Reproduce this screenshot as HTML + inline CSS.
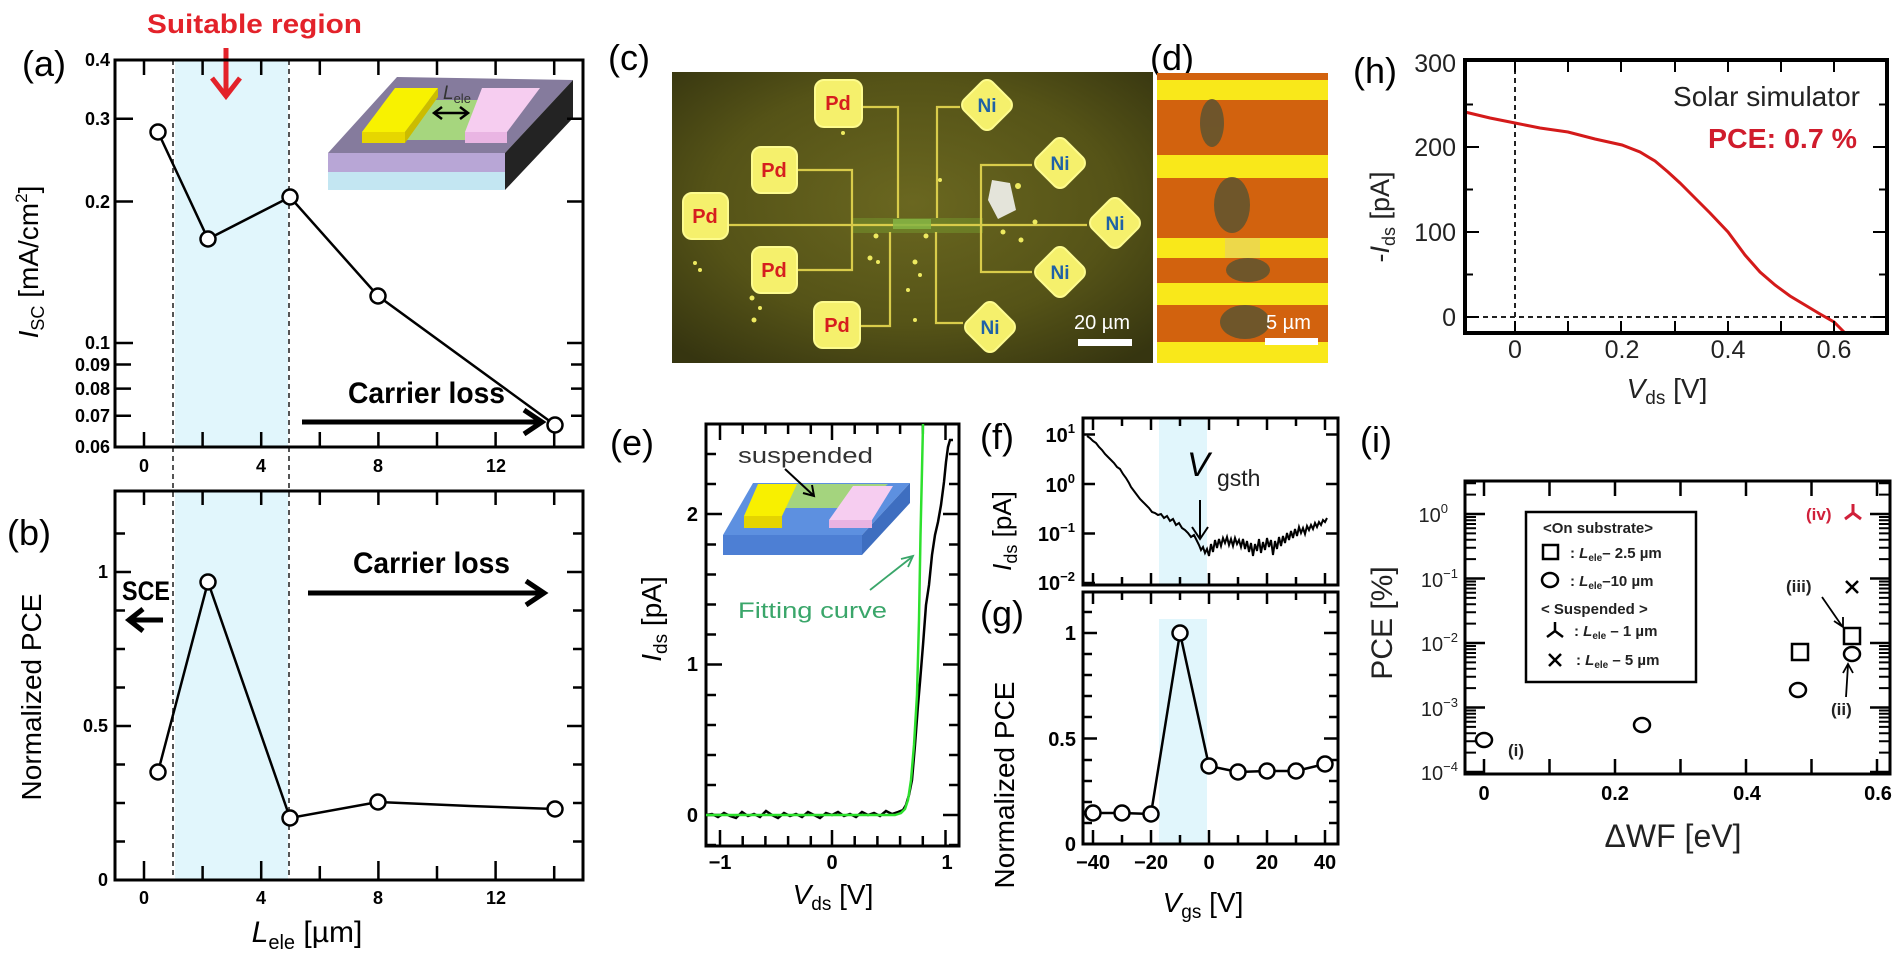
<!DOCTYPE html>
<html><head><meta charset="utf-8"><style>
html,body{margin:0;padding:0;background:#fff;width:1900px;height:957px;overflow:hidden;}
svg{display:block;}
text{font-family:"Liberation Sans",Arial,sans-serif;}
.b{font-weight:bold;}
</style></head><body>
<svg width="1900" height="957" viewBox="0 0 1900 957" xmlns="http://www.w3.org/2000/svg">
<defs>
<radialGradient id="cg" cx="0.5" cy="0.45" r="0.7">
<stop offset="0" stop-color="#6a6720"/><stop offset="0.6" stop-color="#555317"/><stop offset="1" stop-color="#363510"/>
</radialGradient>
</defs>

<!-- ================= (a) & (b) ================= -->
<text x="22" y="76" font-size="36">(a)</text>
<text x="147" y="33" font-size="27" class="b" fill="#e3222a" textLength="215" lengthAdjust="spacingAndGlyphs">Suitable region</text>

<rect x="175" y="60" width="113" height="387" fill="#e1f6fc"/>
<rect x="175" y="491" width="113" height="389" fill="#e1f6fc"/>
<line x1="173" y1="60" x2="173" y2="880" stroke="#555" stroke-width="2" stroke-dasharray="5,4"/>
<line x1="289" y1="60" x2="289" y2="880" stroke="#555" stroke-width="2" stroke-dasharray="5,4"/>

<line x1="226" y1="48" x2="226" y2="93" stroke="#e3222a" stroke-width="5"/>
<polyline points="212,78 226,96 240,78" fill="none" stroke="#e3222a" stroke-width="5"/>

<!-- inset (a) -->
<polygon points="397,77 573,80 505,153 328,153" fill="#857b9d"/>
<polygon points="328,153 505,153 505,172 328,172" fill="#b8a6d6"/>
<polygon points="328,172 505,172 505,190 328,190" fill="#c3e6f2"/>
<polygon points="505,153 573,80 573,118 505,190" fill="#232323"/>
<polygon points="420,100 482,100 467,140 405,140" fill="#a6d67e"/>
<polygon points="395,88 438,88 405,132 362,132" fill="#f8f200"/>
<polygon points="362,132 405,132 405,143 362,143" fill="#e6d600"/>
<polygon points="405,132 438,88 438,97 405,143" fill="#cbbc00"/>
<polygon points="482,88 540,88 507,132 465,132" fill="#f6cdf0"/>
<polygon points="465,132 507,132 507,143 465,143" fill="#e9b5e3"/>
<line x1="436" y1="113" x2="466" y2="113" stroke="#000" stroke-width="2.5"/>
<polyline points="442,107 434,113 442,119" fill="none" stroke="#000" stroke-width="2.5"/>
<polyline points="460,107 468,113 460,119" fill="none" stroke="#000" stroke-width="2.5"/>
<text x="443" y="99" font-size="19" font-style="italic" fill="#333">L<tspan font-size="13" font-style="normal" dy="4">ele</tspan></text>

<rect x="115" y="60" width="468" height="387" fill="none" stroke="#000" stroke-width="3"/>
<rect x="115" y="491" width="468" height="389" fill="none" stroke="#000" stroke-width="3"/>
<path d="M144,60v15M202.6,60v15M261.2,60v15M319.8,60v15M378.4,60v15M437,60v15M495.6,60v15M554.2,60v15
M144,447v-15M202.6,447v-15M261.2,447v-15M319.8,447v-15M378.4,447v-15M437,447v-15M495.6,447v-15M554.2,447v-15
M115,118.7h18M115,201.5h18M115,343h18M115,364.5h16M115,388.6h16M115,415.8h16
M583,118.7h-16M583,201.5h-16M583,343h-16M583,364.5h-12M583,388.6h-12M583,415.8h-12
M144,491v14M202.6,491v14M261.2,491v14M319.8,491v14M378.4,491v14M437,491v14M495.6,491v14M554.2,491v14
M144,880v-19M202.6,880v-14M261.2,880v-19M319.8,880v-14M378.4,880v-19M437,880v-14M495.6,880v-19M554.2,880v-14
M115,533.5h10M115,572h16M115,610.5h10M115,649h10M115,687.5h10M115,726h16M115,764.5h10M115,803h10M115,841.5h10
M583,533.5h-10M583,572h-16M583,610.5h-10M583,649h-10M583,687.5h-10M583,726h-16M583,764.5h-10M583,803h-10M583,841.5h-10" stroke="#000" stroke-width="2.5" fill="none"/>
<g font-size="18" class="b" text-anchor="end">
<text x="110" y="66">0.4</text><text x="110" y="125">0.3</text><text x="110" y="208">0.2</text>
<text x="110" y="349">0.1</text><text x="110" y="371">0.09</text><text x="110" y="395">0.08</text>
<text x="110" y="422">0.07</text><text x="110" y="453">0.06</text>
<text x="108" y="578">1</text><text x="108" y="732">0.5</text><text x="108" y="886">0</text>
</g>
<g font-size="18" class="b" text-anchor="middle">
<text x="144" y="472">0</text><text x="261" y="472">4</text><text x="378" y="472">8</text><text x="496" y="472">12</text>
<text x="144" y="904">0</text><text x="261" y="904">4</text><text x="378" y="904">8</text><text x="496" y="904">12</text>
</g>
<text transform="translate(38,262) rotate(-90)" font-size="28" text-anchor="middle"><tspan font-style="italic">I</tspan><tspan font-size="18" dy="6">SC</tspan><tspan dy="-6"> [mA/cm</tspan><tspan font-size="17" dy="-11">2</tspan><tspan dy="11">]</tspan></text>
<text transform="translate(41,697) rotate(-90)" font-size="28" text-anchor="middle">Normalized  PCE</text>
<text x="307" y="942" font-size="30" text-anchor="middle"><tspan font-style="italic">L</tspan><tspan font-size="20" dy="7">ele</tspan><tspan dy="-7"> [µm]</tspan></text>
<text x="7" y="545" font-size="36">(b)</text>

<polyline points="158,132 208,239 290,197 378,296 555,425" fill="none" stroke="#000" stroke-width="2.5"/>
<polyline points="158,772 208,582 290,818 378,802 470,806 555,809" fill="none" stroke="#000" stroke-width="2.5"/>
<g fill="#fff" stroke="#000" stroke-width="2.5">
<circle cx="158" cy="132" r="7.5"/><circle cx="208" cy="239" r="7.5"/><circle cx="290" cy="197" r="7.5"/><circle cx="378" cy="296" r="7.5"/><circle cx="555" cy="425" r="7.5"/>
<circle cx="158" cy="772" r="7.5"/><circle cx="208" cy="582" r="7.5"/><circle cx="290" cy="818" r="7.5"/><circle cx="378" cy="802" r="7.5"/><circle cx="555" cy="809" r="7.5"/>
</g>
<text x="348" y="403" font-size="30" class="b" textLength="157" lengthAdjust="spacingAndGlyphs">Carrier loss</text>
<line x1="302" y1="422" x2="540" y2="422" stroke="#000" stroke-width="5"/>
<polyline points="524,410 542,422 524,434" fill="none" stroke="#000" stroke-width="5"/>
<text x="353" y="573" font-size="30" class="b" textLength="157" lengthAdjust="spacingAndGlyphs">Carrier loss</text>
<line x1="308" y1="593" x2="542" y2="593" stroke="#000" stroke-width="5"/>
<polyline points="526,581 544,593 526,605" fill="none" stroke="#000" stroke-width="5"/>
<text x="122" y="600" font-size="27" class="b" textLength="48" lengthAdjust="spacingAndGlyphs">SCE</text>
<line x1="132" y1="620" x2="163" y2="620" stroke="#000" stroke-width="5"/>
<polyline points="143,609 129,620 143,631" fill="none" stroke="#000" stroke-width="5"/>

<!-- ================= (c) ================= -->
<text x="608" y="70" font-size="36">(c)</text>
<rect x="672" y="72" width="481" height="291" fill="url(#cg)"/>
<rect x="853" y="218" width="130" height="15" fill="#78a030" opacity="0.45"/>
<g fill="none" stroke="#d9cc4a" stroke-width="2.2">
<path d="M862,107H898V218M860,326H890V232M960,107H937V218M936,232V323H963M797,170H852V270H797M1032,165H981V272H1032M728,225H1087"/>
</g>
<rect x="893" y="219" width="38" height="10" fill="#86b444" opacity="0.85"/>
<polygon points="992,180 1010,183 1016,210 998,219 988,200" fill="#e4e4da"/>
<g fill="#eeea60">
<circle cx="1018" cy="186" r="3"/><circle cx="870" cy="258" r="2.5"/><circle cx="878" cy="262" r="2"/><circle cx="760" cy="308" r="2"/><circle cx="915" cy="262" r="2.5"/><circle cx="940" cy="180" r="2"/><circle cx="1021" cy="240" r="2.5"/><circle cx="843" cy="133" r="2"/><circle cx="908" cy="290" r="2"/><circle cx="700" cy="270" r="2"/>
<circle cx="752" cy="298" r="2.5"/><circle cx="754" cy="320" r="2.5"/><circle cx="876" cy="236" r="2.5"/><circle cx="920" cy="275" r="2"/><circle cx="926" cy="236" r="2.5"/><circle cx="1003" cy="232" r="2.5"/><circle cx="1035" cy="222" r="2.5"/><circle cx="695" cy="263" r="2"/><circle cx="915" cy="320" r="2"/>
</g>
<g fill="#f5f06c" stroke="#fdfb8e" stroke-width="2">
<rect x="815" y="80" width="47" height="47" rx="9"/>
<rect x="752" y="147" width="45" height="46" rx="9"/>
<rect x="683" y="193" width="45" height="46" rx="9"/>
<rect x="752" y="247" width="45" height="46" rx="9"/>
<rect x="814" y="302" width="46" height="46" rx="9"/>
<rect x="967" y="85" width="40" height="40" rx="8" transform="rotate(45 987 105)"/>
<rect x="1040" y="143" width="40" height="40" rx="8" transform="rotate(45 1060 163)"/>
<rect x="1095" y="203" width="40" height="40" rx="8" transform="rotate(45 1115 223)"/>
<rect x="1040" y="252" width="40" height="40" rx="8" transform="rotate(45 1060 272)"/>
<rect x="970" y="307" width="40" height="40" rx="8" transform="rotate(45 990 327)"/>
</g>
<g font-size="20" class="b" fill="#d61e1e" text-anchor="middle">
<text x="838" y="110">Pd</text><text x="774" y="177">Pd</text><text x="705" y="223">Pd</text><text x="774" y="277">Pd</text><text x="837" y="332">Pd</text>
</g>
<g font-size="19" class="b" fill="#1f62a6" text-anchor="middle">
<text x="987" y="112">Ni</text><text x="1060" y="170">Ni</text><text x="1115" y="230">Ni</text><text x="1060" y="279">Ni</text><text x="990" y="334">Ni</text>
</g>
<text x="1074" y="329" font-size="20" fill="#fff">20 µm</text>
<rect x="1078" y="339" width="54" height="7" fill="#fff"/>

<!-- ================= (d) ================= -->
<text x="1150" y="70" font-size="36">(d)</text>
<rect x="1157" y="73" width="171" height="290" fill="#d2620e"/>
<g fill="#f9e81a">
<rect x="1157" y="80" width="171" height="20"/>
<rect x="1157" y="155" width="171" height="23"/>
<rect x="1157" y="238" width="171" height="20"/>
<rect x="1157" y="283" width="171" height="22"/>
<rect x="1157" y="342" width="171" height="21"/>
</g>
<g fill="#5e5430" opacity="0.85">
<ellipse cx="1212" cy="123" rx="12" ry="24"/>
<ellipse cx="1232" cy="205" rx="18" ry="28"/>
<ellipse cx="1248" cy="270" rx="22" ry="12"/>
<ellipse cx="1245" cy="322" rx="25" ry="17"/>
</g>
<rect x="1225" y="238" width="35" height="20" fill="#e8d260" opacity="0.7"/>
<text x="1266" y="329" font-size="20" fill="#fff">5 µm</text>
<rect x="1265" y="338" width="53" height="7" fill="#fff"/>

<!-- ================= (h) ================= -->
<text x="1353" y="83" font-size="36">(h)</text>
<line x1="1515" y1="60" x2="1515" y2="333" stroke="#222" stroke-width="2" stroke-dasharray="5,4"/>
<line x1="1465" y1="317" x2="1887" y2="317" stroke="#222" stroke-width="2" stroke-dasharray="5,4"/>
<polyline points="1465,112 1490,118 1515,123 1540,128 1568,132 1595,139 1622,145 1640,152 1655,161 1668,172 1680,183 1695,198 1710,213 1728,232 1745,255 1760,272 1775,285 1790,296 1805,305 1820,314 1834,322 1845,333" fill="none" stroke="#d41a1a" stroke-width="3"/>
<rect x="1465" y="60" width="422" height="273" fill="none" stroke="#000" stroke-width="4"/>
<path d="M1515,60v12M1568,60v12M1621,60v12M1675,60v12M1728,60v12M1781,60v12M1834,60v12
M1515,333v-12M1568,333v-12M1621,333v-12M1675,333v-12M1728,333v-12M1781,333v-12M1834,333v-12
M1465,317h14M1465,274.5h8M1465,232h14M1465,189.5h8M1465,147h14M1465,104.5h8
M1887,317h-14M1887,274.5h-8M1887,232h-14M1887,189.5h-8M1887,147h-14M1887,104.5h-8" stroke="#000" stroke-width="2" fill="none"/>
<g font-size="25" text-anchor="end" fill="#222">
<text x="1456" y="72">300</text><text x="1456" y="156">200</text><text x="1456" y="241">100</text><text x="1456" y="326">0</text>
</g>
<g font-size="25" text-anchor="middle" fill="#222">
<text x="1515" y="358">0</text><text x="1622" y="358">0.2</text><text x="1728" y="358">0.4</text><text x="1834" y="358">0.6</text>
</g>
<text transform="translate(1389,217) rotate(-90)" font-size="27" text-anchor="middle" fill="#222">-<tspan font-style="italic">I</tspan><tspan font-size="18" dy="6">ds</tspan><tspan dy="-6"> [pA]</tspan></text>
<text x="1667" y="398" font-size="28" text-anchor="middle" fill="#222"><tspan font-style="italic">V</tspan><tspan font-size="19" dy="6">ds</tspan><tspan dy="-6"> [V]</tspan></text>
<text x="1673" y="106" font-size="28" fill="#222" textLength="187" lengthAdjust="spacingAndGlyphs">Solar simulator</text>
<text x="1708" y="148" font-size="28" class="b" fill="#d01c2c" textLength="149" lengthAdjust="spacingAndGlyphs">PCE: 0.7 %</text>

<!-- ================= (e) ================= -->
<text x="610" y="455" font-size="36">(e)</text>
<rect x="706" y="424" width="253" height="422" fill="none" stroke="#000" stroke-width="3"/>
<path d="M720,424v16M742.7,424v10M765.4,424v10M788.1,424v10M810.8,424v10M832,424v16M854.7,424v10M877.4,424v10M900.1,424v10M922.8,424v10M945.5,424v16
M720,846v-16M742.7,846v-10M765.4,846v-10M788.1,846v-10M810.8,846v-10M832,846v-16M854.7,846v-10M877.4,846v-10M900.1,846v-10M922.8,846v-10M945.5,846v-16
M706,845h10M706,815h16M706,785h10M706,755h10M706,725h10M706,695h10M706,664.5h16M706,634.5h10M706,604.5h10M706,574.5h10M706,544.5h10M706,514h16M706,484h10M706,454h10
M959,845h-10M959,815h-16M959,785h-10M959,755h-10M959,725h-10M959,695h-10M959,664.5h-16M959,634.5h-10M959,604.5h-10M959,574.5h-10M959,544.5h-10M959,514h-16M959,484h-10M959,454h-10" stroke="#000" stroke-width="2.5" fill="none"/>
<g font-size="20" class="b" text-anchor="end"><text x="698" y="822">0</text><text x="698" y="671">1</text><text x="698" y="521">2</text></g>
<g font-size="20" class="b" text-anchor="middle"><text x="720" y="869">−1</text><text x="832" y="869">0</text><text x="947" y="869">1</text></g>
<text transform="translate(661,619) rotate(-90)" font-size="28" text-anchor="middle"><tspan font-style="italic">I</tspan><tspan font-size="19" dy="6">ds</tspan><tspan dy="-6"> [pA]</tspan></text>
<text x="833" y="904" font-size="28" text-anchor="middle"><tspan font-style="italic">V</tspan><tspan font-size="19" dy="6">ds</tspan><tspan dy="-6"> [V]</tspan></text>
<!-- inset e -->
<polygon points="753,483 910,483 862,535 723,535" fill="#5d90e0"/>
<polygon points="723,535 862,535 862,555 723,555" fill="#4d7fd4"/>
<polygon points="862,535 910,483 910,503 862,555" fill="#3e6ec0"/>
<polygon points="790,484 888,484 858,508 770,508" fill="#a4d47e"/>
<polygon points="758,484 797,484 782,516 744,516" fill="#f8f000"/>
<polygon points="744,516 782,516 782,528 744,528" fill="#e4d400"/>
<polygon points="853,486 893,486 872,520 829,520" fill="#f6cdf0"/>
<polygon points="829,520 872,520 872,528 829,528" fill="#e8b3e2"/>
<text x="738" y="463" font-size="22" fill="#333" textLength="135" lengthAdjust="spacingAndGlyphs">suspended</text>
<line x1="785" y1="469" x2="813" y2="495" stroke="#000" stroke-width="2"/>
<polyline points="803,493 814,496 812,485" fill="none" stroke="#000" stroke-width="2"/>
<text x="738" y="618" font-size="22" fill="#3aa66a" textLength="149" lengthAdjust="spacingAndGlyphs">Fitting curve</text>
<line x1="870" y1="590" x2="912" y2="557" stroke="#3aa66a" stroke-width="1.8"/>
<polyline points="901,559 913,556 908,567" fill="none" stroke="#3aa66a" stroke-width="1.8"/>
<polyline points="706,815 712,814 718,817 724,813 730,816 736,818 742,812 748,816 754,814 760,817 766,811 772,815 778,818 784,813 790,816 796,814 802,817 808,812 814,815 820,818 826,813 832,815 838,812 844,816 850,814 856,817 862,812 868,815 874,813 880,816 886,811 892,814 898,812 903,810 906,805 909,795 912,780 915,745 918,705 920,682 923,645 926,605 929,585 932,555 935,535 938,522 941,505 944,482 946,462 948,447 950,440 953,440" fill="none" stroke="#000" stroke-width="2.5"/>
<polyline points="706,815 895,815 901,813 905,809 908,800 911,780 914,745 917,695 919,620 920.5,535 922,470 923,424" fill="none" stroke="#2ee02e" stroke-width="2.5"/>

<!-- ================= (f) & (g) ================= -->
<text x="980" y="449" font-size="36">(f)</text>
<text x="980" y="626" font-size="36">(g)</text>
<rect x="1159" y="418" width="48" height="167" fill="#e1f6fc"/>
<rect x="1159" y="619" width="48" height="225" fill="#e1f6fc"/>
<rect x="1083" y="418" width="255" height="167" fill="none" stroke="#000" stroke-width="3"/>
<rect x="1083" y="592" width="255" height="252" fill="none" stroke="#000" stroke-width="3"/>
<path d="M1093,418v12M1122,418v8M1151,418v12M1180,418v8M1209,418v12M1238,418v8M1267,418v12M1296,418v8M1325,418v12
M1093,585v-12M1122,585v-8M1151,585v-12M1180,585v-8M1209,585v-12M1238,585v-8M1267,585v-12M1296,585v-8M1325,585v-12
M1093,592v12M1122,592v8M1151,592v12M1180,592v8M1209,592v12M1238,592v8M1267,592v12M1296,592v8M1325,592v12
M1093,844v-14M1122,844v-9M1151,844v-14M1180,844v-9M1209,844v-14M1238,844v-9M1267,844v-14M1296,844v-9M1325,844v-14
M1083,434.5h12M1083,484h12M1083,533.5h12M1083,583h12M1338,434.5h-12M1338,484h-12M1338,533.5h-12
M1083,823h9M1083,802h9M1083,781h9M1083,760h9M1083,738.5h14M1083,717h9M1083,696h9M1083,675h9M1083,654h9M1083,633h14M1083,612h9
M1338,823h-9M1338,802h-9M1338,781h-9M1338,760h-9M1338,738.5h-14M1338,717h-9M1338,696h-9M1338,675h-9M1338,654h-9M1338,633h-14M1338,612h-9" stroke="#000" stroke-width="2.5" fill="none"/>
<g font-size="20" class="b" text-anchor="end">
<text x="1075" y="442">10<tspan font-size="13" dy="-9">1</tspan></text>
<text x="1075" y="492">10<tspan font-size="13" dy="-9">0</tspan></text>
<text x="1075" y="541">10<tspan font-size="13" dy="-9">−1</tspan></text>
<text x="1075" y="590">10<tspan font-size="13" dy="-9">−2</tspan></text>
<text x="1076" y="640">1</text><text x="1076" y="746">0.5</text><text x="1076" y="851">0</text>
</g>
<g font-size="20" class="b" text-anchor="middle">
<text x="1093" y="869">−40</text><text x="1151" y="869">−20</text><text x="1209" y="869">0</text><text x="1267" y="869">20</text><text x="1325" y="869">40</text>
</g>
<text transform="translate(1011,531) rotate(-90)" font-size="26" text-anchor="middle"><tspan font-style="italic">I</tspan><tspan font-size="18" dy="6">ds</tspan><tspan dy="-6"> [pA]</tspan></text>
<text transform="translate(1014,785) rotate(-90)" font-size="28" text-anchor="middle">Normalized  PCE</text>
<text x="1203" y="912" font-size="28" text-anchor="middle"><tspan font-style="italic">V</tspan><tspan font-size="19" dy="6">gs</tspan><tspan dy="-6"> [V]</tspan></text>
<text x="1187" y="476" font-size="34" font-style="italic">V</text>
<text x="1217" y="486" font-size="23" fill="#222">gsth</text>
<line x1="1200" y1="500" x2="1200" y2="538" stroke="#000" stroke-width="2"/>
<polyline points="1192,527 1200,539 1208,527" fill="none" stroke="#000" stroke-width="2"/>
<polyline points="1087,436 1090,438 1093,441 1096,443 1099,447 1102,450 1105,454 1108,457 1111,460 1114,463 1117,467 1120,469 1123,474 1126,478 1129,483 1131,487 1134,491 1137,495 1140,499 1143,502 1146,505 1149,508 1152,512 1155,513 1158,515 1161,514 1164,518 1167,516 1170,521 1173,519 1176,525 1179,523 1182,528 1185,530 1188,533 1191,537 1194,535 1197,541 1199,545 1201,550 1203,547 1205,553 1207,549 1209,556 1211,544 1213,552 1215,540 1217,548 1219,539 1221,546 1223,538 1225,543 1227,537 1229,545 1231,539 1233,546 1235,538 1237,544 1239,540 1241,547 1243,539 1245,549 1247,541 1249,552 1251,543 1253,556 1255,544 1257,551 1259,539 1261,553 1263,542 1265,550 1267,538 1269,547 1271,540 1273,555 1275,541 1277,549 1279,537 1281,546 1283,536 1285,543 1287,533 1289,540 1291,531 1293,538 1295,529 1297,536 1299,527 1301,533 1303,528 1305,534 1307,526 1309,530 1311,525 1313,529 1315,523 1317,527 1319,522 1321,525 1323,520 1325,522 1327,518" fill="none" stroke="#000" stroke-width="2"/>
<polyline points="1093,813 1122,813 1151,814 1180,633 1209,766 1238,772 1267,771 1296,771 1325,764" fill="none" stroke="#000" stroke-width="2.5"/>
<g fill="#fff" stroke="#000" stroke-width="2.5">
<circle cx="1093" cy="813" r="7.5"/><circle cx="1122" cy="813" r="7.5"/><circle cx="1151" cy="814" r="7.5"/><circle cx="1180" cy="633" r="7.5"/><circle cx="1209" cy="766" r="7.5"/><circle cx="1238" cy="772" r="7.5"/><circle cx="1267" cy="771" r="7.5"/><circle cx="1296" cy="771" r="7.5"/><circle cx="1325" cy="764" r="7.5"/>
</g>

<!-- ================= (i) ================= -->
<text x="1360" y="452" font-size="36">(i)</text>
<rect x="1465" y="481" width="425" height="293" fill="none" stroke="#000" stroke-width="3"/>
<path d="M1484,481v15M1549.5,481v15M1615,481v15M1680.5,481v15M1746,481v15M1811.5,481v15M1877,481v15
M1484,774v-15M1549.5,774v-15M1615,774v-15M1680.5,774v-15M1746,774v-15M1811.5,774v-15M1877,774v-15
M1465,772h20M1465,707.5h20M1465,643h20M1465,578.5h20M1465,514h20
M1890,772h-20M1890,707.5h-20M1890,643h-20M1890,578.5h-20M1890,514h-20" stroke="#000" stroke-width="2.5" fill="none"/>
<path d="M1465,752.6h11M1465,741.2h11M1465,733.2h11M1465,726.9h11M1465,721.8h11M1465,717.5h11M1465,713.8h11M1465,710.5h11
M1465,688.1h11M1465,676.7h11M1465,668.7h11M1465,662.4h11M1465,657.3h11M1465,653h11M1465,649.3h11M1465,646h11
M1465,623.6h11M1465,612.2h11M1465,604.2h11M1465,597.9h11M1465,592.8h11M1465,588.5h11M1465,584.8h11M1465,581.5h11
M1465,559.1h11M1465,547.7h11M1465,539.7h11M1465,533.4h11M1465,528.3h11M1465,524h11M1465,520.3h11M1465,517h11
M1465,494.6h11M1465,483.2h11
M1890,752.6h-11M1890,741.2h-11M1890,733.2h-11M1890,726.9h-11M1890,721.8h-11M1890,717.5h-11M1890,713.8h-11M1890,710.5h-11
M1890,688.1h-11M1890,676.7h-11M1890,668.7h-11M1890,662.4h-11M1890,657.3h-11M1890,653h-11M1890,649.3h-11M1890,646h-11
M1890,623.6h-11M1890,612.2h-11M1890,604.2h-11M1890,597.9h-11M1890,592.8h-11M1890,588.5h-11M1890,584.8h-11M1890,581.5h-11
M1890,559.1h-11M1890,547.7h-11M1890,539.7h-11M1890,533.4h-11M1890,528.3h-11M1890,524h-11M1890,520.3h-11M1890,517h-11
M1890,494.6h-11M1890,483.2h-11" stroke="#000" stroke-width="2" fill="none"/>
<g font-size="20" text-anchor="end" fill="#222">
<text x="1448" y="522">10<tspan font-size="13" dy="-9">0</tspan></text>
<text x="1458" y="587">10<tspan font-size="13" dy="-9">−1</tspan></text>
<text x="1458" y="651">10<tspan font-size="13" dy="-9">−2</tspan></text>
<text x="1458" y="716">10<tspan font-size="13" dy="-9">−3</tspan></text>
<text x="1458" y="780">10<tspan font-size="13" dy="-9">−4</tspan></text>
</g>
<g font-size="20" class="b" text-anchor="middle">
<text x="1484" y="800">0</text><text x="1615" y="800">0.2</text><text x="1747" y="800">0.4</text><text x="1878" y="800">0.6</text>
</g>
<text transform="translate(1392,623) rotate(-90)" font-size="30" text-anchor="middle" fill="#222">PCE [%]</text>
<text x="1673" y="847" font-size="32" text-anchor="middle" fill="#222">ΔWF [eV]</text>
<!-- legend -->
<rect x="1526" y="512" width="170" height="170" fill="#fff" stroke="#000" stroke-width="2.5"/>
<g font-size="15" class="b" fill="#222">
<text x="1543" y="533">&lt;On substrate&gt;</text>
<text x="1570" y="558">: <tspan font-style="italic">L</tspan><tspan font-size="10" dy="3">ele</tspan><tspan dy="-3">– 2.5 µm</tspan></text>
<text x="1570" y="586">: <tspan font-style="italic">L</tspan><tspan font-size="10" dy="3">ele</tspan><tspan dy="-3">–10 µm</tspan></text>
<text x="1541" y="614">&lt; Suspended &gt;</text>
<text x="1574" y="636">: <tspan font-style="italic">L</tspan><tspan font-size="10" dy="3">ele</tspan><tspan dy="-3"> – 1 µm</tspan></text>
<text x="1576" y="665">: <tspan font-style="italic">L</tspan><tspan font-size="10" dy="3">ele</tspan><tspan dy="-3"> – 5 µm</tspan></text>
</g>
<rect x="1543" y="545" width="15" height="14" fill="none" stroke="#000" stroke-width="2.5"/>
<ellipse cx="1550" cy="580" rx="8" ry="7" fill="none" stroke="#000" stroke-width="2.5"/>
<path d="M1555,622v9M1555,631l-8,6M1555,631l8,6" stroke="#000" stroke-width="2.5" fill="none"/>
<path d="M1549,654l12,12M1561,654l-12,12" stroke="#000" stroke-width="2.5" fill="none"/>
<!-- data -->
<g fill="#fff" stroke="#000" stroke-width="2.5">
<ellipse cx="1484" cy="740" rx="8" ry="7"/>
<ellipse cx="1642" cy="725" rx="8" ry="7"/>
<ellipse cx="1798" cy="690" rx="8" ry="7"/>
<ellipse cx="1852" cy="654" rx="8" ry="7"/>
<rect x="1792" y="644" width="16" height="16"/>
<rect x="1844" y="628" width="16" height="16"/>
</g>
<path d="M1846,581l12,12M1858,581l-12,12" stroke="#000" stroke-width="2.5" fill="none"/>
<path d="M1853,504v9M1853,513l-8,6M1853,513l8,6" stroke="#d0203a" stroke-width="3" fill="none"/>
<text x="1806" y="520" font-size="17" class="b" fill="#d0203a">(iv)</text>
<text x="1508" y="756" font-size="17" class="b" fill="#222">(i)</text>
<text x="1786" y="592" font-size="17" class="b" fill="#222">(iii)</text>
<text x="1831" y="715" font-size="17" class="b" fill="#222">(ii)</text>
<line x1="1822" y1="597" x2="1842" y2="626" stroke="#000" stroke-width="1.8"/>
<polyline points="1834,621 1843,627 1843,617" fill="none" stroke="#000" stroke-width="1.8"/>
<line x1="1846" y1="697" x2="1848" y2="665" stroke="#000" stroke-width="1.8"/>
<polyline points="1843,673 1848,664 1853,673" fill="none" stroke="#000" stroke-width="1.8"/>
</svg>
</body></html>
